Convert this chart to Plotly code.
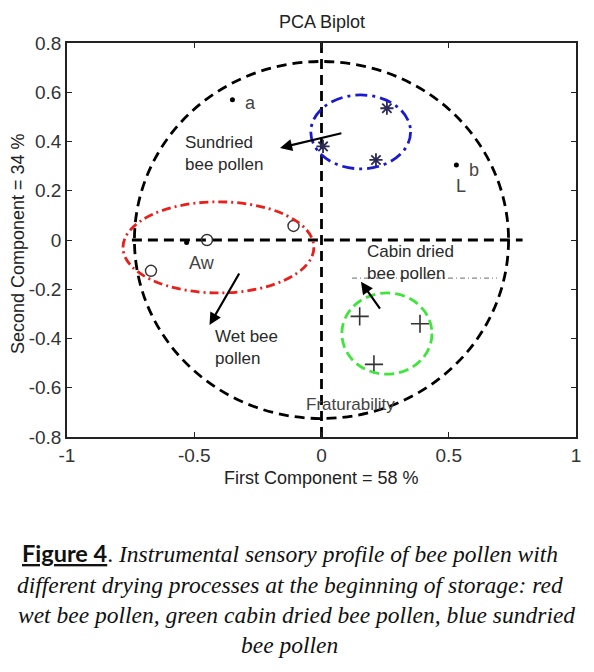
import plotly.graph_objects as go

# sample scores
wet_x = [-0.45, -0.11, -0.67]
wet_y = [0.0, 0.057, -0.125]
sun_x = [0.257, 0.214, 0.006]
sun_y = [0.535, 0.325, 0.38]
cab_x = [0.15, 0.387, 0.206]
cab_y = [-0.31, -0.34, -0.505]

# attribute points (a, b, Aw)
attr_x = [-0.35, 0.53, -0.53]
attr_y = [0.57, 0.305, -0.01]
attr_labels = ["a", "b", "Aw"]
attr_lx = [-0.28, 0.60, -0.47]
attr_ly = [0.555, 0.285, -0.095]

# ellipses: big circle, red, blue, green
ell_cx = [0.0, -0.405, 0.154, 0.257]
ell_cy = [0.0, -0.03, 0.439, -0.38]
ell_rx = [0.735, 0.375, 0.196, 0.177]
ell_ry = [0.725, 0.185, 0.15, 0.165]
ell_color = ["black", "#e8201c", "#1a1ad0", "#3ee63a"]
ell_dash = ["10px,6px", "9px,4px,2px,4px", "12px,5px,3px,5px", "10px,5px"]

# arrows (head, tail)
arr_x = [-0.163, -0.44, 0.155]
arr_y = [0.374, -0.345, -0.17]
arr_ax = [0.084, -0.32, 0.234]
arr_ay = [0.435, -0.13, -0.285]

group_text = ["Sundried<br>bee pollen", "Wet bee<br>pollen", "Cabin dried<br>bee pollen"]
group_x = [-0.545, -0.427, 0.17]
group_y = [0.35, -0.435, -0.09]

xticks = [-1, -0.5, 0, 0.5, 1]
xtick_text = ["-1", "-0.5", "0", "0.5", "1"]
yticks = [0.8, 0.6, 0.4, 0.2, 0, -0.2, -0.4, -0.6, -0.8]
ytick_text = ["0.8", "0.6", "0.4", "0.2", "0", "-0.2", "-0.4", "-0.6", "-0.8"]

caption = [
    '<span style="font-family:Lato"><b><u>Figure 4</u></b></span>. '
    '<i>Instrumental sensory profile of bee pollen with</i>',
    "<i>different drying processes at the beginning of storage: red</i>",
    "<i>wet bee pollen, green cabin dried bee pollen, blue sundried</i>",
    "<i>bee pollen</i>",
]
caption_x = [0.438, 0.438, 0.45, 0.438]
caption_y = [-0.294, -0.375, -0.452, -0.528]

fig = go.Figure()

# dashed reference axes
fig.add_trace(go.Scatter(x=[-0.745, 0.79], y=[0, 0], mode="lines",
                         line=dict(color="black", width=2.8, dash="10px,6px"),
                         showlegend=False, hoverinfo="skip"))
fig.add_trace(go.Scatter(x=[0, 0], y=[0.8, -0.8], mode="lines",
                         line=dict(color="black", width=2.8, dash="10px,6px"),
                         showlegend=False, hoverinfo="skip"))
# cabin label underline (grey dashed)
fig.add_trace(go.Scatter(x=[0.12, 0.69], y=[-0.155, -0.155], mode="lines",
                         line=dict(color="#888888", width=1.2, dash="5px,3px,1px,3px"),
                         showlegend=False, hoverinfo="skip"))

shapes = []
for cx, cy, rx, ry, c, d in zip(ell_cx, ell_cy, ell_rx, ell_ry, ell_color, ell_dash):
    shapes.append(dict(type="circle", xref="x", yref="y",
                       x0=cx - rx, x1=cx + rx, y0=cy - ry, y1=cy + ry,
                       line=dict(color=c, width=2.8, dash=d)))

fig.add_trace(go.Scatter(x=wet_x, y=wet_y, mode="markers",
                         marker=dict(symbol="circle-open", size=11, color="#333333",
                                     line=dict(width=1.4)),
                         showlegend=False))
fig.add_trace(go.Scatter(x=sun_x, y=sun_y, mode="markers",
                         marker=dict(symbol="asterisk-open", size=11, color="#2b2b55",
                                     line=dict(width=1.8)),
                         showlegend=False))
fig.add_trace(go.Scatter(x=cab_x, y=cab_y, mode="markers",
                         marker=dict(symbol="cross-thin-open", size=13, color="#333333",
                                     line=dict(width=1.6)),
                         showlegend=False))
fig.add_trace(go.Scatter(x=attr_x, y=attr_y, mode="markers",
                         marker=dict(symbol="circle", size=5, color="black"),
                         showlegend=False))

ann = []
for x, y, ax, ay in zip(arr_x, arr_y, arr_ax, arr_ay):
    ann.append(dict(x=x, y=y, ax=ax, ay=ay, xref="x", yref="y", axref="x", ayref="y",
                    text="", showarrow=True, arrowhead=2, arrowsize=1.1,
                    arrowwidth=2.2, arrowcolor="black"))
for t, x, y in zip(group_text, group_x, group_y):
    ann.append(dict(x=x, y=y, xref="x", yref="y", text=t, showarrow=False,
                    xanchor="left", yanchor="middle", align="left",
                    font=dict(family="Liberation Sans, Arial", size=17, color="#2a2a2a")))
for t, x, y in zip(attr_labels, attr_lx, attr_ly):
    ann.append(dict(x=x, y=y, xref="x", yref="y", text=t, showarrow=False,
                    font=dict(family="Liberation Sans, Arial", size=18, color="#444444")))
ann.append(dict(x=0.548, y=0.22, xref="x", yref="y", text="L", showarrow=False,
                font=dict(family="Liberation Sans, Arial", size=18, color="#444444")))
ann.append(dict(x=-0.07, y=-0.667, xref="x", yref="y", text="Fraturability",
                showarrow=False, xanchor="left",
                font=dict(family="Liberation Sans, Arial", size=17, color="#444444")))

# titles
ann.append(dict(x=0.5, y=1.053, xref="paper", yref="paper", text="PCA Biplot",
                showarrow=False, yanchor="middle",
                font=dict(family="Liberation Sans, Arial", size=18, color="#222222")))
ann.append(dict(x=0.5, y=-0.104, xref="paper", yref="paper",
                text="First Component = 58 %", showarrow=False, yanchor="middle",
                font=dict(family="Liberation Sans, Arial", size=18, color="#222222")))
ann.append(dict(x=-0.096, y=0.49, xref="paper", yref="paper",
                text="Second Component = 34 %", showarrow=False, textangle=-90,
                xanchor="center", yanchor="middle",
                font=dict(family="Liberation Sans, Arial", size=18, color="#222222")))

for t, x, y in zip(caption, caption_x, caption_y):
    ann.append(dict(x=x, y=y, xref="paper", yref="paper", text=t,
                    showarrow=False, xanchor="center", yanchor="middle",
                    font=dict(family="Liberation Serif, serif", size=23.5, color="#111111")))

fig.update_layout(
    width=586, height=664,
    margin=dict(l=59, r=18, t=35, b=235),
    paper_bgcolor="white", plot_bgcolor="white",
    shapes=shapes, annotations=ann,
    font=dict(family="Liberation Sans, Arial", size=17, color="#333333"),
)
fig.update_xaxes(range=[-1, 1], tickvals=xticks, ticktext=xtick_text,
                 showgrid=False, zeroline=False, showline=True, linecolor="#222222",
                 linewidth=1.5, mirror="ticks", ticks="inside", ticklen=5,
                 tickcolor="#222222", tickfont=dict(size=19, color="#333333"))
fig.update_yaxes(range=[-0.8, 0.8], tickvals=yticks, ticktext=ytick_text,
                 showgrid=False, zeroline=False, showline=True, linecolor="#222222",
                 linewidth=1.5, mirror="ticks", ticks="inside", ticklen=5,
                 tickcolor="#222222", tickfont=dict(size=19, color="#333333"))

fig.write_html("out.html")
